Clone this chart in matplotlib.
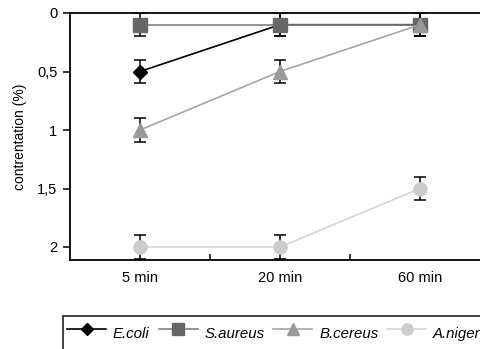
import matplotlib.pyplot as plt
import numpy as np

plt.rcParams['font.family'] = ['Liberation Sans', 'DejaVu Sans']

# donnees
temps = ['5 min', '20 min', '60 min']
e_coli = [0.5, 0.1, 0.1]
s_aureus = [0.1, 0.1, 0.1]
b_cereus = [1.0, 0.5, 0.1]
a_niger = [2.0, 2.0, 1.5]
erreur = [0.1, 0.1, 0.1]
y_ticks = [0, 0.5, 1, 1.5, 2]
y_labels = ['0', '0,5', '1', '1,5', '2']

# nom, valeurs, marqueur, taille, couleur marqueur, couleur ligne
series = [
    ('E.coli', e_coli, 'D', 7, '#000000', '#000000'),
    ('S.aureus', s_aureus, 's', 10, '#666666', '#808080'),
    ('B.cereus', b_cereus, '^', 10, '#999999', '#a6a6a6'),
    ('A.niger', a_niger, 'o', 9.5, '#cccccc', '#d4d4d4'),
]

fig = plt.figure(figsize=(4.81, 3.49), dpi=100)
ax = fig.add_axes([70/481, 1 - 260/349, 420/481, 247/349])

x = np.arange(len(temps))
handles = []
for nom, val, mk, taille, c_mk, c_line in series:
    ax.errorbar(x, val, yerr=erreur, fmt='none', ecolor='black',
                elinewidth=1.1, capsize=4.3, capthick=1.1, zorder=2)
    h, = ax.plot(x, val, color=c_line, linewidth=1.2, marker=mk,
                 markersize=taille, markerfacecolor=c_mk,
                 markeredgecolor=c_mk, label=nom, zorder=3)
    handles.append(h)

ax.set_xlim(-0.5, 2.5)
ax.set_ylim(2 + 13/117, 0)
ax.set_yticks(y_ticks)
ax.set_yticklabels(y_labels, fontsize=10.5)
ax.set_xticks(x)
ax.set_xticklabels(temps, fontsize=10.5)
ax.set_xticks([0.5, 1.5], minor=True)
ax.tick_params(axis='x', which='major', length=0, pad=8)
ax.tick_params(axis='x', which='minor', direction='in', length=4, width=1.1)
ax.tick_params(axis='y', direction='out', length=5, width=1.1, pad=4)
for s in ax.spines.values():
    s.set_linewidth(1.3)
ax.set_ylabel('contrentation (%)', fontsize=10, labelpad=7)

# legende coupee par le bas de l'image comme dans l'original
leg = fig.legend(handles=handles, loc='upper left',
                 bbox_to_anchor=(63/481, 1 - 316/349), borderaxespad=0,
                 ncol=4, frameon=True, fancybox=False, edgecolor='black',
                 handlelength=2.6, handleheight=2.4, handletextpad=0.45,
                 columnspacing=0.6, borderpad=0.27, markerscale=0.85,
                 prop={'style': 'italic', 'size': 10.8})
leg.get_frame().set_linewidth(1.3)

plt.savefig('out.png', dpi=100)
